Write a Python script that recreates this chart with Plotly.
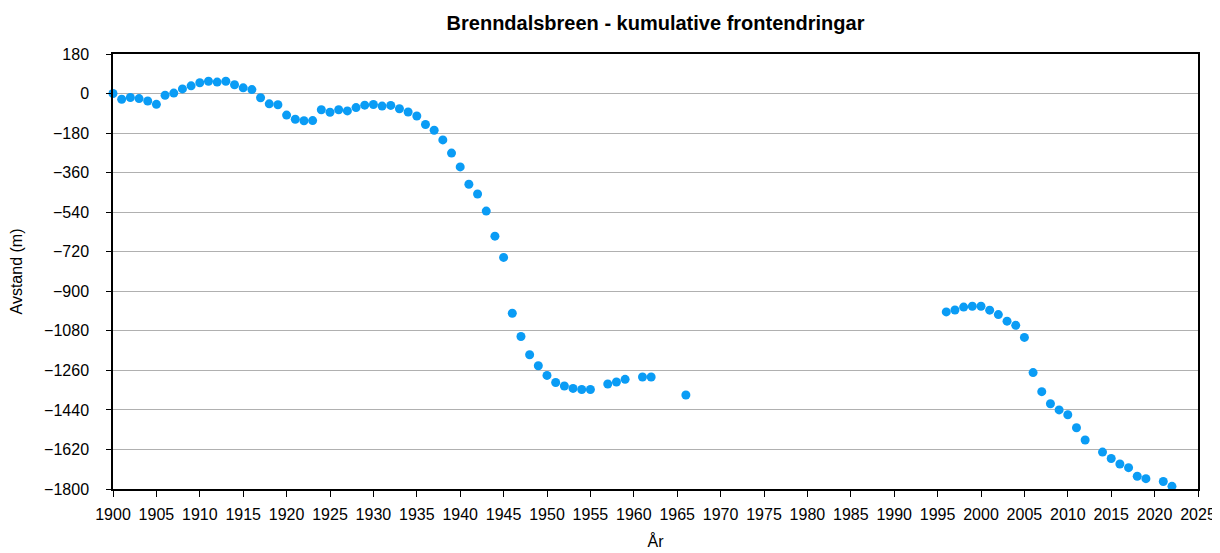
import plotly.graph_objects as go

years = [1900, 1901, 1902, 1903, 1904, 1905, 1906, 1907, 1908, 1909,
         1910, 1911, 1912, 1913, 1914, 1915, 1916, 1917, 1918, 1919,
         1920, 1921, 1922, 1923, 1924, 1925, 1926, 1927, 1928, 1929,
         1930, 1931, 1932, 1933, 1934, 1935, 1936, 1937, 1938, 1939,
         1940, 1941, 1942, 1943, 1944, 1945, 1946, 1947, 1948, 1949,
         1950, 1951, 1952, 1953, 1954, 1955, 1957, 1958, 1959, 1961,
         1962, 1966,
         1996, 1997, 1998, 1999, 2000, 2001, 2002, 2003, 2004, 2005,
         2006, 2007, 2008, 2009, 2010, 2011, 2012, 2014, 2015, 2016,
         2017, 2018, 2019, 2021, 2022]
distance = [0, -26, -18, -23, -34, -49, -8, 2, 21, 35,
            49, 56, 52, 56, 40, 26, 18, -19, -47, -51,
            -98, -117, -124, -123, -74, -85, -74, -79, -64, -53,
            -50, -57, -54, -69, -84, -102, -141, -167, -211, -271,
            -334, -413, -457, -535, -649, -746, -1000, -1106, -1189, -1239,
            -1283, -1315, -1331, -1342, -1347, -1347, -1322, -1313, -1301, -1290,
            -1290, -1372,
            -994, -985, -972, -968, -968, -986, -1006, -1036, -1055, -1110,
            -1270, -1357, -1412, -1440, -1462, -1521, -1577, -1632, -1661, -1686,
            -1703, -1742, -1753, -1766, -1788]

x_ticks = list(range(1900, 2026, 5))
y_ticks = list(range(-1800, 181, 180))

font = "Liberation Sans, Arial, Helvetica, sans-serif"

fig = go.Figure()
fig.add_trace(go.Scatter(
    x=years, y=distance, mode="markers",
    marker=dict(size=9, color="#0a9cf5"),
    cliponaxis=False, showlegend=False,
))

fig.update_layout(
    width=1220, height=553,
    margin=dict(l=105, r=30, t=46, b=72, autoexpand=False),
    paper_bgcolor="white", plot_bgcolor="white",
    font=dict(family=font, size=16, color="black"),
    title=dict(text="<b>Brenndalsbreen - kumulative frontendringar</b>",
               x=0.5, xanchor="center", xref="paper",
               y=0.972, yanchor="middle", yref="container",
               font=dict(family=font, size=20, color="black")),
)
fig.update_xaxes(
    range=[1900, 2025], tickvals=x_ticks, ticktext=[str(t) for t in x_ticks],
    showgrid=False, zeroline=False, automargin=False,
    showline=True, linecolor="black", linewidth=1.5, mirror=True,
    ticks="outside", ticklen=6, tickcolor="black",
    ticklabelstandoff=4,
    title=dict(text="År", font=dict(family=font, size=16), standoff=14),
    tickfont=dict(family=font, size=16),
)
fig.update_yaxes(
    range=[-1800, 180], tickvals=y_ticks, ticktext=[str(t).replace("-", "\u2212") for t in y_ticks],
    showgrid=True, gridcolor="#b0b0b0", gridwidth=1, zeroline=False, automargin=False,
    showline=True, linecolor="black", linewidth=1.5, mirror=True,
    ticks="outside", ticklen=5, tickcolor="black",
    ticklabelstandoff=14,
    title=dict(text="Avstand (m)", font=dict(family=font, size=16), standoff=30),
    tickfont=dict(family=font, size=16),
)

fig.write_html("out.html")
